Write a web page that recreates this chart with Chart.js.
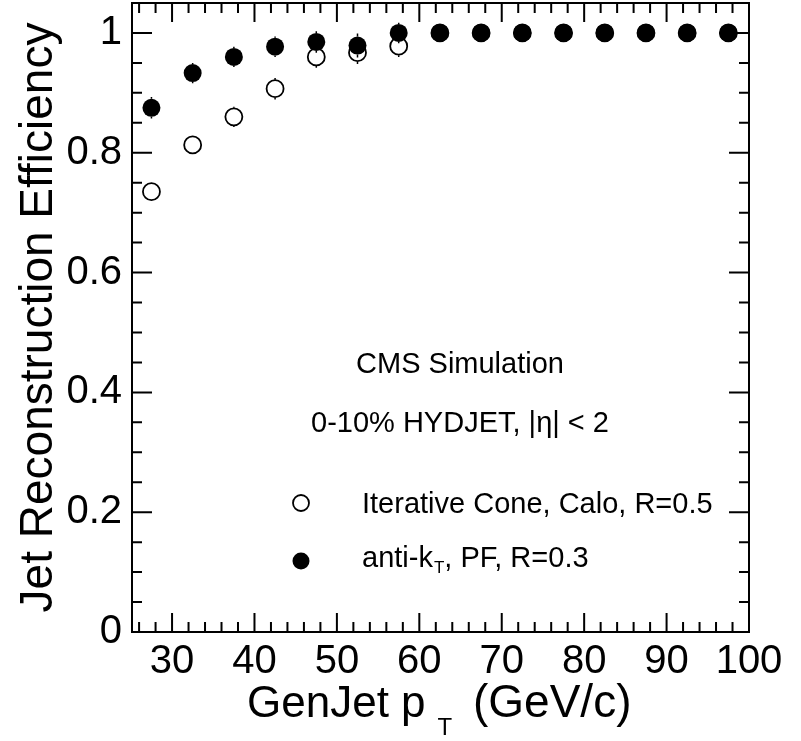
<!DOCTYPE html>
<html>
<head>
<meta charset="utf-8">
<title>Jet reconstruction efficiency</title>
<script src="https://cdn.jsdelivr.net/npm/chart.js@4.4.0/dist/chart.umd.min.js"></script>
<style>
    html, body { margin: 0; padding: 0; background: #fff; }
    #wrap { width: 801px; height: 741px; }
</style>
</head>
<body>
<div id="wrap"><canvas id="effChart" width="801" height="741"></canvas></div>
<script>
// GenJet pT bin centres (GeV/c)
const ptBins = [27.5, 32.5, 37.5, 42.5, 47.5, 52.5, 57.5, 62.5, 67.5, 72.5, 77.5, 82.5, 87.5, 92.5, 97.5];

// Iterative Cone, Calo, R=0.5 (open circles)
const effCalo = [0.735, 0.813, 0.86, 0.907, 0.96, 0.967, 0.978, 1, 1, 1, 1, 1, 1, 1, 1];
const errCalo = [0.014, 0.015, 0.017, 0.018, 0.018, 0.019, 0.018, 0, 0, 0, 0, 0, 0, 0, 0];

// anti-kT, PF, R=0.3 (filled circles)
const effPF = [0.875, 0.933, 0.96, 0.977, 0.985, 0.979, 1, 1, 1, 1, 1, 1, 1, 1, 1];
const errPF = [0.018, 0.017, 0.017, 0.017, 0.018, 0.02, 0.017, 0, 0, 0, 0, 0, 0, 0, 0];

const xTickLabels = [30, 40, 50, 60, 70, 80, 90, 100];
const yTickLabels = [0, 0.2, 0.4, 0.6, 0.8, 1];

const FONT = "'Liberation Sans', Arial, Helvetica, sans-serif";
const MARKER_R = 9;

function toPoints(vals) {
    return ptBins.map((x, i) => ({ x: x, y: vals[i] }));
}

// vertical error bars, only the parts sticking out of the marker (like ROOT)
const errorBars = {
    id: 'errorBars',
    beforeDatasetsDraw(chart) {
        const ctx = chart.ctx;
        const ys = chart.scales.y;
        const xs = chart.scales.x;
        const sets = [[effCalo, errCalo], [effPF, errPF]];
        ctx.save();
        ctx.strokeStyle = '#000';
        ctx.lineWidth = 1.5;
        sets.forEach(([vals, errs]) => {
            vals.forEach((v, i) => {
                if (!errs[i]) return;
                const px = xs.getPixelForValue(ptBins[i]);
                const pc = ys.getPixelForValue(v);
                const lo = ys.getPixelForValue(v - errs[i]);
                const hi = ys.getPixelForValue(Math.min(v + errs[i], 1.05));
                ctx.beginPath();
                if (lo > pc + MARKER_R) { ctx.moveTo(px, lo); ctx.lineTo(px, pc + MARKER_R); }
                if (hi < pc - MARKER_R) { ctx.moveTo(px, hi); ctx.lineTo(px, pc - MARKER_R); }
                ctx.stroke();
            });
        });
        ctx.restore();
    }
};

// draw text pieces one after another (for subscripts)
function drawParts(ctx, parts, x, y) {
    let cx = x;
    parts.forEach(p => {
        cx += p.gap || 0;
        ctx.font = p.size + 'px ' + FONT;
        ctx.fillText(p.text, cx, y + (p.dy || 0));
        cx += ctx.measureText(p.text).width;
    });
}

// ROOT-like frame with inside ticks, plus labels and legend
const frameAndText = {
    id: 'frameAndText',
    afterDraw(chart) {
        const ctx = chart.ctx;
        const a = chart.chartArea;
        const xs = chart.scales.x;
        const ys = chart.scales.y;
        ctx.save();
        ctx.strokeStyle = '#000';
        ctx.lineWidth = 2;
        ctx.strokeRect(a.left, a.top, a.right - a.left, a.bottom - a.top);

        ctx.beginPath();
        for (let v = 26; v <= 100; v += 2) {
            const len = v % 10 === 0 ? 19 : 10;
            const px = xs.getPixelForValue(v);
            ctx.moveTo(px, a.bottom); ctx.lineTo(px, a.bottom - len);
            ctx.moveTo(px, a.top); ctx.lineTo(px, a.top + len);
        }
        for (let k = 0; k <= 21; k++) {
            const v = k * 0.05;
            const len = k % 4 === 0 ? 20 : 10;
            const py = ys.getPixelForValue(v);
            ctx.moveTo(a.left, py); ctx.lineTo(a.left + len, py);
            ctx.moveTo(a.right, py); ctx.lineTo(a.right - len, py);
        }
        ctx.stroke();

        ctx.fillStyle = '#000';
        ctx.textBaseline = 'alphabetic';

        // x axis title
        ctx.textAlign = 'left';
        drawParts(ctx, [
            { text: 'GenJet p', size: 44 },
            { text: 'T', size: 24, dy: 18, gap: 12 },
            { text: ' (GeV/c)', size: 46, gap: 8 }
        ], 247, 717);

        // labels
        ctx.textAlign = 'center';
        ctx.font = '29px ' + FONT;
        ctx.fillText('CMS Simulation', 460, 373);
        ctx.fillText('0-10% HYDJET, |\u03B7| < 2', 460, 432);

        // legend
        ctx.textAlign = 'left';
        ctx.font = '29px ' + FONT;
        ctx.fillText('Iterative Cone, Calo, R=0.5', 362, 513);
        drawParts(ctx, [
            { text: 'anti-k', size: 29 },
            { text: 'T', size: 17, dy: 6, gap: 1 },
            { text: ', PF, R=0.3', size: 29 }
        ], 362, 567);

        ctx.lineWidth = 1.8;
        ctx.beginPath();
        ctx.arc(301, 503, 8, 0, Math.PI * 2);
        ctx.stroke();
        ctx.beginPath();
        ctx.arc(301, 561, 8.5, 0, Math.PI * 2);
        ctx.fill();
        ctx.restore();
    }
};

const ctx = document.getElementById('effChart').getContext('2d');
const effChart = new Chart(ctx, {
    type: 'scatter',
    data: {
        datasets: [
            {
                label: 'anti-kT, PF, R=0.3',
                data: toPoints(effPF),
                pointStyle: 'circle',
                pointRadius: MARKER_R,
                pointBackgroundColor: '#000',
                pointBorderColor: '#000',
                pointBorderWidth: 0
            },
            {
                label: 'Iterative Cone, Calo, R=0.5',
                data: toPoints(effCalo),
                pointStyle: 'circle',
                pointRadius: 8.5,
                pointBackgroundColor: 'rgba(0,0,0,0)',
                pointBorderColor: '#000',
                pointBorderWidth: 1.8
            }
        ]
    },
    options: {
        responsive: false,
        animation: false,
        devicePixelRatio: 1,
        layout: { autoPadding: false, padding: { top: 3, right: 52, left: 0, bottom: 0 } },
        plugins: {
            legend: { display: false },
            tooltip: { enabled: false }
        },
        scales: {
            x: {
                type: 'linear',
                min: 25.14,
                max: 100,
                afterBuildTicks: s => { s.ticks = xTickLabels.map(v => ({ value: v })); },
                afterFit: s => { s.height = 109; },
                grid: { display: false, drawTicks: false },
                border: { display: false },
                ticks: {
                    color: '#000',
                    font: { family: FONT, size: 40 },
                    padding: 6,
                    maxRotation: 0,
                    autoSkip: false
                }
            },
            y: {
                type: 'linear',
                min: 0,
                max: 1.05,
                afterBuildTicks: s => { s.ticks = yTickLabels.map(v => ({ value: v })); },
                afterFit: s => {
                    s.width = 132;
                    s.paddingTop = 0;
                    s.paddingBottom = 0;
                },
                grid: { display: false, drawTicks: false },
                border: { display: false },
                ticks: {
                    color: '#000',
                    font: { family: FONT, size: 40 },
                    padding: 10,
                    callback: v => String(v)
                },
                title: {
                    display: true,
                    text: 'Jet Reconstruction Efficiency',
                    color: '#000',
                    font: { family: FONT, size: 46 },
                    padding: { top: 12, bottom: 0 }
                }
            }
        }
    },
    plugins: [errorBars, frameAndText]
});
</script>
</body>
</html>
